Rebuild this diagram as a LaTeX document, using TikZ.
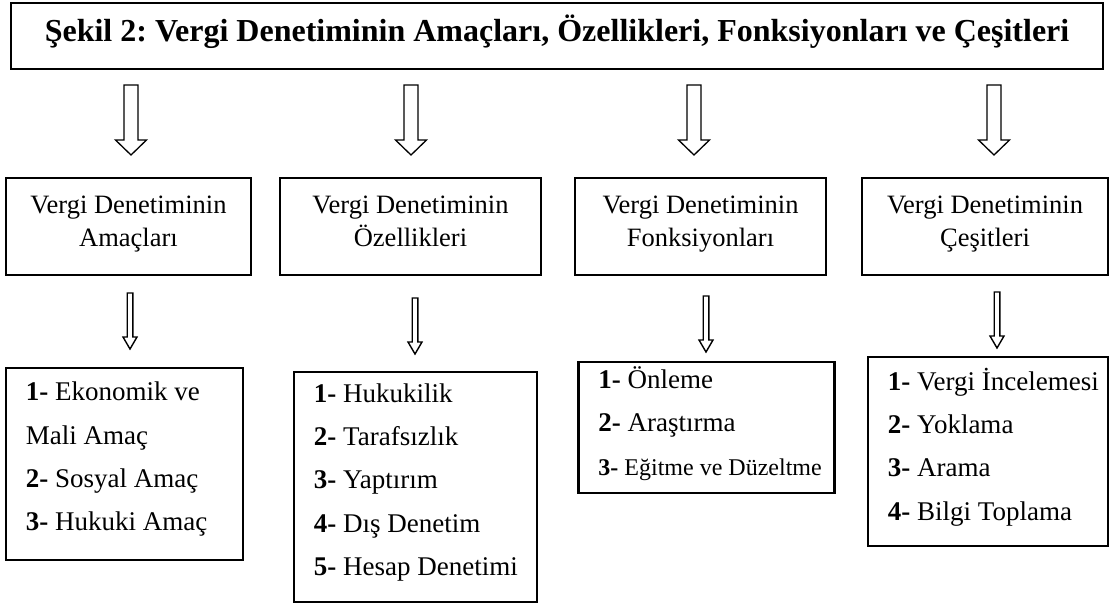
\documentclass[tikz,border=0pt]{standalone}
\usepackage{fontspec}
\setmainfont{Liberation Serif}
\frenchspacing
\usetikzlibrary{calc}
\begin{document}
\begin{tikzpicture}[x=1pt,y=-1pt,
  titlebox/.style={draw=black,line width=2.5pt,minimum width=1092pt,minimum height=66pt,inner sep=0pt,
    font=\fontsize{32}{38}\selectfont\bfseries,text height=23pt,text depth=13pt},
  midbox/.style={draw=black,line width=1.3pt,minimum height=97pt,inner sep=0pt,align=center,
    font=\fontsize{26.5}{33}\selectfont,text depth=10pt},
  listbox/.style={draw=black,line width=2.5pt,inner sep=0pt},
  listtext/.style={anchor=west,inner sep=0pt,align=left,text depth=7pt,
    font=\fontsize{27}{43.3}\selectfont},
  bigarrow/.pic={\draw[line width=1.3pt,line join=miter] (-7,0) -- (-7,55) -- (-15.5,55) -- (0,70) -- (15.5,55) -- (7,55) -- (7,0) -- cycle;},
  smallarrow/.pic={\draw[line width=1.4pt,line join=miter] (-2.8,0) -- (-2.8,44) -- (-7,44) -- (0,56) -- (7,44) -- (2.8,44) -- (2.8,0) -- cycle;}
]
\useasboundingbox (0,0) rectangle (1115,608);

\node[titlebox] (title) at (557,36) {Şekil 2: Vergi Denetiminin Amaçları, Özellikleri, Fonksiyonları ve Çeşitleri};

\node[midbox,minimum width=245pt] (m1) at (128.5,226.5) {Vergi Denetiminin\\Amaçları};
\node[midbox,minimum width=261pt] (m2) at (410.5,226.5) {Vergi Denetiminin\\Özellikleri};
\node[midbox,minimum width=251pt] (m3) at (700.5,226.5) {Vergi Denetiminin\\Fonksiyonları};
\node[midbox,minimum width=246pt] (m4) at (985,226.5) {Vergi Denetiminin\\Çeşitleri};

\coordinate (a1) at (131,85);
\coordinate (a2) at (411,85);
\coordinate (a3) at (694,85);
\coordinate (a4) at (994,85);
\pic at (a1) {bigarrow};
\pic at (a2) {bigarrow};
\pic at (a3) {bigarrow};
\pic at (a4) {bigarrow};

\coordinate (b1) at (130,293);
\coordinate (b2) at (415,298);
\coordinate (b3) at (706,296);
\coordinate (b4) at (997,292);
\pic at (b1) {smallarrow};
\pic at (b2) {smallarrow};
\pic at (b3) {smallarrow};
\pic at (b4) {smallarrow};

\node[listbox,minimum width=237pt,minimum height=192pt] (l1) at (124.5,464) {};
\node[listbox,minimum width=243pt,minimum height=230pt] (l2) at (415.5,487) {};
\node[listbox,minimum width=256pt,minimum height=131pt] (l3) at (706.5,427.5) {};
\node[listbox,minimum width=240pt,minimum height=189pt] (l4) at (988,451.5) {};

\node[listtext] (t1) at ([xshift=21pt,yshift=4pt]l1.west) {%
\textbf{1-} Ekonomik ve\\Mali Amaç\\\textbf{2-} Sosyal Amaç\\\textbf{3-} Hukuki Amaç};
\node[listtext] (t2) at ([xshift=21pt,yshift=4pt]l2.west) {%
\textbf{1-} Hukukilik\\\textbf{2-} Tarafsızlık\\\textbf{3-} Yaptırım\\\textbf{4-} Dış Denetim\\\textbf{5-} Hesap Denetimi};
\node[listtext] (t3) at ([xshift=21pt,yshift=3pt]l3.west) {%
\textbf{1-} Önleme\\\textbf{2-} Araştırma\\{\fontsize{24}{43.3}\selectfont\textbf{3-} Eğitme ve Düzeltme}};
\node[listtext] (t4) at ([xshift=21pt,yshift=4pt]l4.west) {%
\textbf{1-} Vergi İncelemesi\\\textbf{2-} Yoklama\\\textbf{3-} Arama\\\textbf{4-} Bilgi Toplama};
\end{tikzpicture}
\end{document}
